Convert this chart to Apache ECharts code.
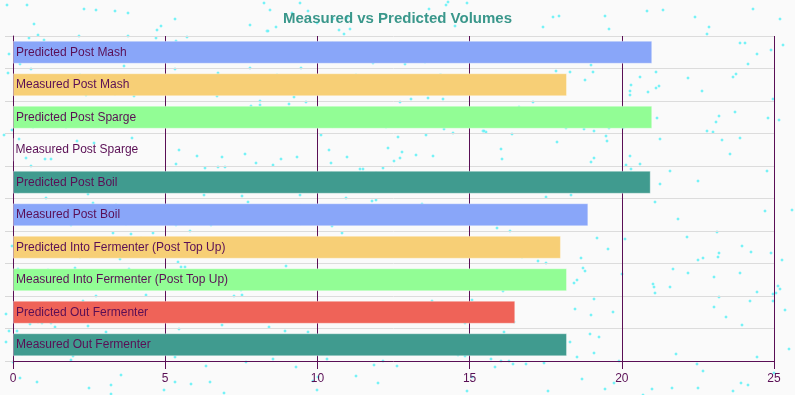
<!DOCTYPE html>
<html>
<head>
<meta charset="utf-8">
<script src="https://cdn.jsdelivr.net/npm/echarts@6/dist/echarts.min.js"></script>
<style>html,body{margin:0;padding:0;background:#fafafa;}#chart{width:795px;height:395px;}</style>
</head>
<body>
<div id="chart"></div>
<script>
const categories = [
  'Predicted Post Mash',
  'Measured Post Mash',
  'Predicted Post Sparge',
  'Measured Post Sparge',
  'Predicted Post Boil',
  'Measured Post Boil',
  'Predicted Into Fermenter (Post Top Up)',
  'Measured Into Fermenter (Post Top Up)',
  'Predicted Out Fermenter',
  'Measured Out Fermenter'
];
const volumes = [21, 18.2, 21, 0, 20.95, 18.9, 18, 18.2, 16.5, 18.2];
const palette = ['#89a6f9', '#f7cf76', '#92fd95', '#ef6358', '#409b8f'];

// decorative speckled background (deterministic, not data)
const W = 795, H = 395;
const bg = document.createElement('canvas');
bg.width = W; bg.height = H;
const ctx = bg.getContext('2d');
ctx.fillStyle = '#fafafa';
ctx.fillRect(0, 0, W, H);
let s = 987654321;
function rnd() {
  s |= 0; s = s + 0x6D2B79F5 | 0;
  let t = Math.imul(s ^ s >>> 15, 1 | s);
  t = t + Math.imul(t ^ t >>> 7, 61 | t) ^ t;
  return ((t ^ t >>> 14) >>> 0) / 4294967296;
}
for (let i = 0; i < 520; i++) {
  const x = Math.floor(rnd() * W), y = Math.floor(rnd() * H);
  ctx.fillStyle = 'rgba(160,245,250,0.4)';
  ctx.fillRect(x - 1, y, 4, 2);
  ctx.fillRect(x, y - 1, 2, 4);
  ctx.fillStyle = 'rgba(100,240,245,0.8)';
  ctx.fillRect(x, y, 2, 2);
}

const chart = echarts.init(document.getElementById('chart'), null, {renderer: 'canvas'});
chart.setOption({
  backgroundColor: {image: bg, repeat: 'no-repeat'},
  animation: false,
  title: {
    text: 'Measured vs Predicted Volumes',
    left: 'center',
    top: 6,
    textStyle: {color: '#3a978b', fontSize: 15, fontWeight: 'bold', fontFamily: 'Liberation Sans, Arial, sans-serif'}
  },
  grid: {left: 13, right: 21, top: 36, bottom: 34, containLabel: false},
  xAxis: {
    type: 'value',
    min: 0, max: 25, interval: 5,
    axisLine: {show: true, lineStyle: {color: '#5a0f55', width: 1}},
    axisTick: {show: true, length: 8, lineStyle: {color: '#5a0f55'}},
    axisLabel: {color: '#5a0f55', fontSize: 12, margin: 12, fontFamily: 'Liberation Sans, Arial, sans-serif'},
    splitLine: {show: true, lineStyle: {color: '#5a0f55', width: 1}}
  },
  yAxis: {
    type: 'category',
    data: categories,
    inverse: true,
    axisLine: {show: true, lineStyle: {color: '#5a0f55', width: 1}},
    axisTick: {show: true, length: 8, lineStyle: {color: '#d8d8d8'}},
    axisLabel: {show: false},
    splitLine: {show: true, lineStyle: {color: '#dcdcdc', width: 1}}
  },
  series: [{
    type: 'bar',
    data: volumes,
    barWidth: 23,
    colorBy: 'data',
    itemStyle: {
      color: function (p) { return palette[p.dataIndex % palette.length]; },
      borderColor: 'rgba(255,255,255,0.35)',
      borderWidth: 1
    },
    label: {
      show: true,
      position: 'insideLeft',
      distance: 3,
      formatter: '{b}',
      color: '#5a0f55',
      fontSize: 12,
      fontFamily: 'Liberation Sans, Arial, sans-serif'
    }
  }]
});
</script>
</body>
</html>
